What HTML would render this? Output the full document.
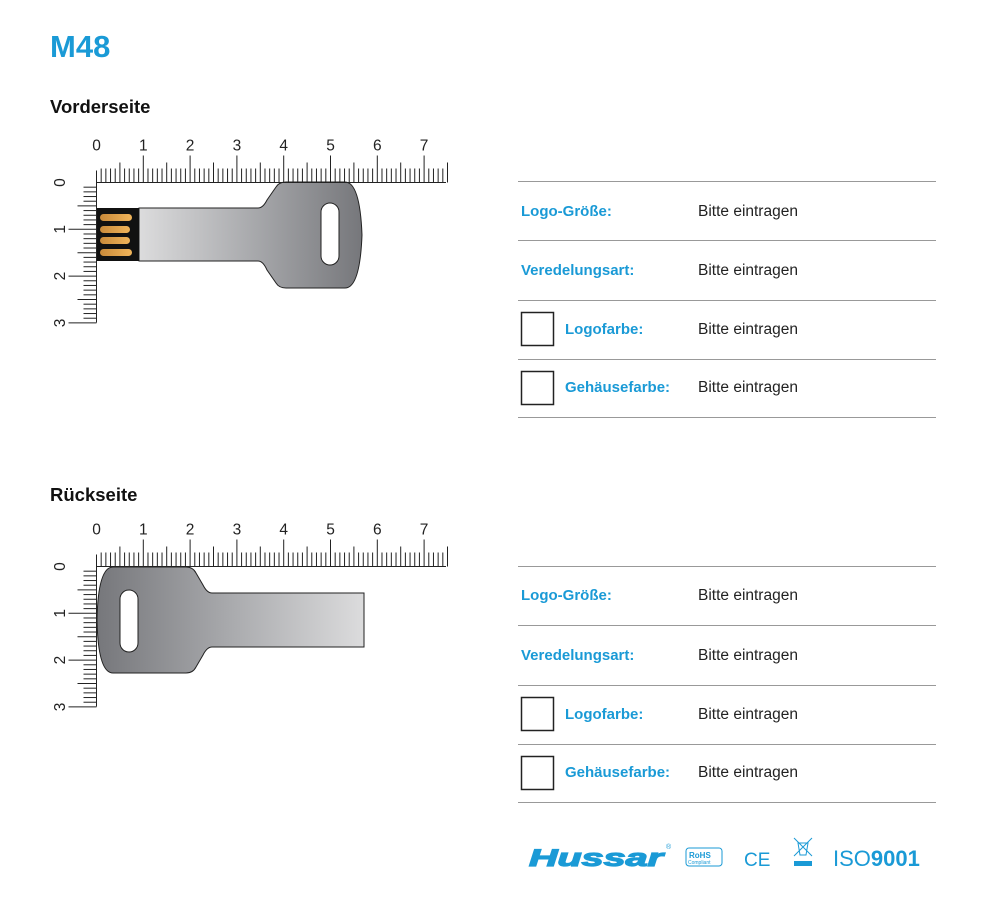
<!DOCTYPE html>
<html><head><meta charset="utf-8"><style>
body{margin:0;background:#fff;width:1000px;height:905px;overflow:hidden;font-family:"Liberation Sans",sans-serif}
svg{position:absolute;left:0;top:0}
</style></head><body>
<svg id="s" width="1000" height="905" viewBox="0 0 1000 905" xmlns="http://www.w3.org/2000/svg" font-family="Liberation Sans, sans-serif">
<defs>
<linearGradient id="gf" x1="0" x2="1" y1="0" y2="0"><stop offset="0" stop-color="#dcdcdd"/><stop offset="0.5" stop-color="#a9aaad"/><stop offset="1" stop-color="#76777b"/></linearGradient>
<linearGradient id="gb" x1="0" x2="1" y1="0" y2="0"><stop offset="0" stop-color="#76777b"/><stop offset="0.5" stop-color="#a9aaad"/><stop offset="1" stop-color="#dcdcdd"/></linearGradient>
<linearGradient id="gold" x1="0" x2="1"><stop offset="0" stop-color="#c98a3a"/><stop offset="1" stop-color="#f0b45a"/></linearGradient>
</defs>
<text x="50" y="57" font-size="31" font-weight="bold" fill="#1a9ad6">M48</text>
<text x="50" y="113" font-size="18.5" font-weight="bold" fill="#111">Vorderseite</text>
<text x="50" y="501" font-size="18.5" font-weight="bold" fill="#111">Rückseite</text>

<path d="M139 208 L258 208 Q263 208 267 200 L276 187 Q279 182 286 182 L345 182 Q360 182 362 235 Q360 288 345 288 L286 288 Q279 288 276 283 L267 270 Q263 261 258 261 L139 261 Z" fill="url(#gf)" stroke="#222" stroke-width="1"/>
<rect x="321" y="203" width="18" height="62" rx="9" fill="#fff" stroke="#222" stroke-width="1"/>
<rect x="96" y="208" width="43" height="53" fill="#111"/>
<g fill="url(#gold)"><rect x="100" y="214" width="32" height="7" rx="3.5"/><rect x="100" y="226" width="30" height="7" rx="3.5"/><rect x="100" y="237" width="30" height="7" rx="3.5"/><rect x="100" y="249" width="32" height="7" rx="3.5"/></g>

<path d="M364 593 L212 593 Q207 593 203 585 L196 573 Q193 567 186 567 L113 567 Q98 567 97 620 Q98 673 113 673 L186 673 Q193 673 196 667 L203 655 Q207 647 212 647 L364 647 Z" fill="url(#gb)" stroke="#222" stroke-width="1"/>
<rect x="120" y="590" width="18" height="62" rx="9" fill="#fff" stroke="#222" stroke-width="1"/>

<g id="r" stroke="#222" stroke-width="1" fill="none"></g>
<g id="t" font-size="15.5" fill="#222"></g>

<g stroke="#999" stroke-width="1">
<line x1="518" x2="936" y1="181.5" y2="181.5"/><line x1="518" x2="936" y1="240.5" y2="240.5"/><line x1="518" x2="936" y1="300.5" y2="300.5"/><line x1="518" x2="936" y1="359.5" y2="359.5"/><line x1="518" x2="936" y1="417.5" y2="417.5"/>
<line x1="518" x2="936" y1="566.5" y2="566.5"/><line x1="518" x2="936" y1="625.5" y2="625.5"/><line x1="518" x2="936" y1="685.5" y2="685.5"/><line x1="518" x2="936" y1="744.5" y2="744.5"/><line x1="518" x2="936" y1="802.5" y2="802.5"/>
</g>
<g fill="none" stroke="#222" stroke-width="1.5">
<rect x="521.5" y="312.5" width="32" height="33"/><rect x="521.5" y="371.5" width="32" height="33"/>
<rect x="521.5" y="697.5" width="32" height="33"/><rect x="521.5" y="756.5" width="32" height="33"/>
</g>
<g font-size="15" font-weight="bold" fill="#1a9ad6">
<text x="521" y="216">Logo-Größe:</text><text x="521" y="275">Veredelungsart:</text><text x="565" y="334">Logofarbe:</text><text x="565" y="392">Gehäusefarbe:</text>
<text x="521" y="600">Logo-Größe:</text><text x="521" y="660">Veredelungsart:</text><text x="565" y="719">Logofarbe:</text><text x="565" y="777">Gehäusefarbe:</text>
</g>
<g font-size="15.5" fill="#222">
<text x="698" y="216">Bitte eintragen</text><text x="698" y="275">Bitte eintragen</text><text x="698" y="334">Bitte eintragen</text><text x="698" y="392">Bitte eintragen</text>
<text x="698" y="600">Bitte eintragen</text><text x="698" y="660">Bitte eintragen</text><text x="698" y="719">Bitte eintragen</text><text x="698" y="777">Bitte eintragen</text>
</g>

<text x="529" y="866" font-size="24" font-weight="bold" font-style="italic" fill="#1a9ad6" stroke="#1a9ad6" stroke-width="1.2" textLength="134" lengthAdjust="spacingAndGlyphs">Hussar</text>
<text x="666" y="849" font-size="7" fill="#1a9ad6">®</text>
<rect x="686" y="848" width="36" height="18" rx="3" fill="none" stroke="#1a9ad6"/>
<text x="689" y="858" font-size="8" font-weight="bold" fill="#1a9ad6">RoHS</text>
<text x="688" y="864" font-size="5" fill="#1a9ad6">Compliant</text>
<text x="744" y="866" font-size="19" fill="#1a9ad6">CE</text>
<g stroke="#1a9ad6" stroke-width="1" fill="none"><path d="M794 838 L812 856 M812 838 L794 856 M798 843 L808 843 L806 855 L800 855 Z"/></g>
<rect x="794" y="861" width="18" height="5" fill="#1a9ad6"/>
<text x="833" y="866" font-size="22" fill="#1a9ad6">ISO<tspan font-weight="bold">9001</tspan></text>
</svg>
<script>
(function(){
var ns="http://www.w3.org/2000/svg",r=document.getElementById('r'),t=document.getElementById('t');
function L(x1,y1,x2,y2){var l=document.createElementNS(ns,'line');l.setAttribute('x1',x1);l.setAttribute('y1',y1);l.setAttribute('x2',x2);l.setAttribute('y2',y2);r.appendChild(l);}
function T(x,y,s,rot){var e=document.createElementNS(ns,'text');e.setAttribute('x',x);e.setAttribute('y',y);e.setAttribute('text-anchor','middle');if(rot)e.setAttribute('transform','rotate(-90 '+x+' '+y+')');e.textContent=s;t.appendChild(e);}
function ruler(ox,oy){var u=46.8;
L(ox,oy,446,oy);L(ox,oy-12,ox,oy+140);
for(var i=1;i<=75;i++){var x=ox+i*u/10;var h=i%10==0?27:(i%5==0?20:14);L(x,oy,x,oy-h);}
for(var i=0;i<=7;i++)T(ox+i*u,oy-32,''+i);
for(var i=1;i<=30;i++){var y=oy+i*u/10;var h=i%10==0?28:(i%5==0?19:13);L(ox,y,ox-h,y);}
for(var i=0;i<=3;i++)T(65,oy+i*u,''+i,true);
}
ruler(96.5,182.5);ruler(96.5,566.5);
})();
</script>
</body></html>
